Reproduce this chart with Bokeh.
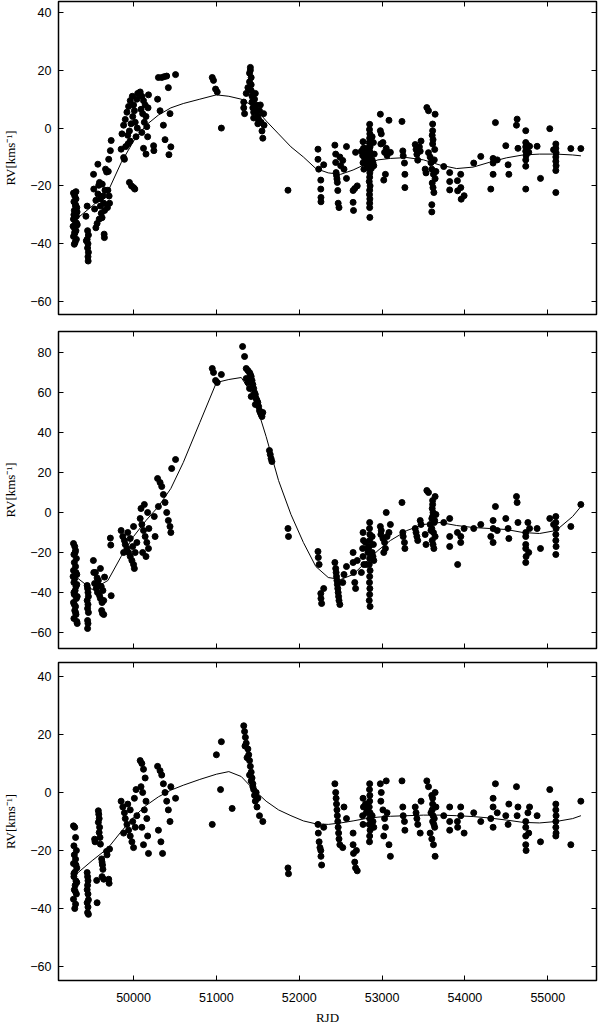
from bokeh.plotting import figure
from bokeh.models import Range1d, FixedTicker, LinearAxis, CustomJSTickFormatter, ColumnDataSource
from bokeh.layouts import column
from bokeh.embed import file_html
from bokeh.resources import INLINE

# ---------------- data ----------------
x_ticks = [50000, 51000, 52000, 53000, 54000, 55000]
y_ticks_a = [-60, -40, -20, 0, 20, 40]
y_ticks_b = [-60, -40, -20, 0, 20, 40, 60, 80]
y_ticks_c = [-60, -40, -20, 0, 20, 40]
x_label = "RJD"
y_label = "RV[kms\u207b\u00b9]"

# observations (RJD, RV) of panel A (top)
obs_a = [
    (49275, -22.5), (49290, -23.5), (49305, -24.5), (49280, -25.5), (49300, -26.5), (49315, -27.5),
    (49285, -28.5), (49295, -29.5), (49310, -30.5), (49275, -31.5), (49300, -32.5), (49320, -33.5),
    (49285, -34.5), (49305, -35.5), (49290, -36.5), (49275, -37.5), (49310, -38.5), (49295, -39.5),
    (49285, -40.2), (49300, -27), (49280, -30), (49315, -33), (49290, -36), (49305, -22), (49318, -29), (49270, -34),
    (49440, -27), (49425, -30.5), (49445, -35.5), (49455, -37), (49440, -38.5), (49450, -40), (49445, -41.5),
    (49455, -43), (49450, -44.5), (49452, -46), (49430, -39),
    (49517, -16), (49569, -12.5), (49520, -21.1), (49589, -18.8), (49580, -19.8), (49622, -19.4), (49662, -14.2),
    (49675, -15.2), (49545, -25), (49570, -22.8), (49600, -27), (49610, -29.5), (49630, -23.5), (49640, -26),
    (49650, -28.5), (49585, -31.5), (49560, -33), (49545, -34.5), (49620, -31), (49600, -24.5), (49645, -36.7),
    (49648, -37.9), (49530, -28), (49655, -21.5),
    (49730, -4.3), (49720, -7.8), (49700, -10.8), (49695, -15), (49690, -21.5), (49705, -23.5), (49710, -26), (49685, -27.5),
    (49850, -7.3), (49880, -10.2), (49890, -10.8), (49905, -6.4), (49935, -5.4), (49960, -4.5), (49950, -18.8),
    (49975, -20), (50000, -20.6), (50015, -21.1), (49860, -2), (49880, 1), (49900, 3), (49920, 5.5), (49940, 7.5),
    (49960, 9.5), (49985, 11), (50000, 8), (49990, 4), (49970, 1.5), (49950, -1), (49930, -2.5), (50010, 6),
    (50020, 2), (50030, -3), (50040, 10), (50050, 12), (50045, 0),
    (50080, 12.5), (50100, 11), (50120, 9.5), (50140, 8), (50090, 6.5), (50110, 5), (50150, 4), (50130, 2),
    (50160, 0.5), (50100, -1.5), (50170, -3), (50120, -7), (50150, -9), (50180, 11.5), (50175, 7),
    (50242, -6.1), (50245, -7.8), (50300, 17.5), (50340, 17.5), (50370, 17.8), (50400, 18), (50420, 14),
    (50290, 10), (50320, 6), (50360, 1), (50380, -4), (50427, -9.2), (50440, 5), (50450, -6.5),
    (50507, 18.5),
    (50950, 17.5), (50965, 16.5), (51010, 12.5), (50990, 13.5), (51060, 0),
    (51330, 7), (51330, 9), (51340, 5), (51360, 12), (51380, 14), (51400, 16), (51400, 19), (51410, 21),
    (51410, 20), (51420, 17.5), (51420, 15), (51420, 13), (51430, 11), (51430, 9), (51440, 7), (51450, 5.5),
    (51450, 3.5), (51460, 10), (51470, 12), (51480, 8), (51490, 6), (51500, 4), (51500, 1.5), (51510, 3),
    (51520, 6), (51530, 8), (51540, 2), (51550, -1), (51560, -3.5), (51570, 5), (51575, 1),
    (51864, -21.5),
    (52226, -7.3), (52226, -10.8), (52235, -14.2), (52260, -18), (52260, -21.1), (52262, -24), (52262, -25.5), (52295, -12.7),
    (52430, -5.9), (52440, -9), (52440, -11.9), (52445, -15.4), (52450, -16.4), (52455, -17.6), (52460, -18.8),
    (52465, -21.6), (52470, -26), (52480, -27.5), (52525, -11.2), (52540, -14.2), (52570, -6.4), (52570, -17.4),
    (52490, -10), (52500, -13),
    (52650, -21.6), (52650, -25.7), (52655, -28.5), (52670, -20.9), (52680, -8.4), (52700, -20),
    (52850, 1.3), (52848, -0.5), (52852, -2), (52850, -3.5), (52845, -5), (52855, -6.5), (52850, -8), (52845, -9.5),
    (52855, -11), (52850, -12.5), (52848, -14), (52852, -15.5), (52850, -17), (52845, -18.5), (52855, -20),
    (52850, -21.5), (52848, -23), (52852, -24.5), (52850, -26), (52850, -27.5), (52852, -30.9),
    (52770, -4.7), (52775, -7), (52765, -9.5), (52770, -12), (52780, -14.2), (52800, -7), (52810, -9), (52820, -10),
    (52880, -11), (52890, -12), (52900, -13), (52870, -14), (52880, -3), (52895, -5), (52830, -11.5), (52810, -12.5),
    (52790, -10.5), (52905, -9), (52750, -8),
    (52979, 4.8), (52979, -0.9), (52990, -2), (52985, -5.5), (53010, -5), (53030, -8.4), (53040, -16), (53020, -18),
    (53083, 2.7), (53100, -8.4), (53060, -9.5), (53050, -7),
    (53240, 2.3), (53250, -7.9), (53255, -9.6), (53270, -12.1), (53275, -16), (53275, -20.6),
    (53400, -5.7), (53410, -7.4), (53420, -9.1), (53430, -11.1), (53470, -4.5), (53460, -8), (53450, -6.5),
    (53520, -14.2), (53530, -15.5),
    (53540, 7.1), (53560, 6), (53640, 4.8), (53610, 1.4), (53610, -0.9), (53605, -2.5), (53615, -4), (53610, -5.5),
    (53635, -7.4), (53580, -10), (53600, -14.2), (53620, -16), (53640, -17.5), (53605, -19), (53615, -20.6),
    (53625, -22.3), (53600, -26.5), (53600, -29), (53560, -8.5), (53650, -15), (53590, -12), (53630, -11),
    (53744, -13.3), (53816, -15.4), (53816, -18.5), (53816, -21.4),
    (53909, -18.2), (53912, -21.7), (53949, -16), (53950, -20.6), (53955, -24.6), (53990, -23.4),
    (54106, -12.1), (54191, -9.8),
    (54312, -21.1), (54340, -10.5), (54340, -12.1), (54340, -16), (54368, 1.9), (54390, -11),
    (54493, -6.1), (54521, -12.7), (54530, -16),
    (54622, 1), (54630, 3.1), (54640, -7),
    (54734, -0.9), (54734, -5), (54734, -6.5), (54734, -8), (54738, -9.5), (54734, -11), (54734, -13.2),
    (54734, -21.1), (54760, -6), (54780, -6.3), (54770, -8.4),
    (54871, -6.3), (54912, -17.4), (55024, -0.2),
    (55097, -5.5), (55097, -7), (55100, -8.5), (55097, -10), (55097, -11.5), (55100, -13), (55097, -14.7),
    (55097, -22.3), (55070, -7.5),
    (55278, -7.1), (55399, -7.1),
]

# observations (RJD, RV) of panel B (middle)
obs_b = [
    (49275, -15.5), (49290, -17), (49300, -19), (49280, -21), (49310, -23), (49285, -25), (49300, -27),
    (49275, -29), (49315, -31), (49290, -33), (49280, -35), (49305, -37), (49295, -39), (49285, -41),
    (49310, -43), (49275, -45), (49300, -47), (49290, -49), (49305, -51), (49280, -53), (49315, -54.5),
    (49320, -55.5), (49295, -20), (49305, -30), (49280, -40), (49300, -50), (49315, -36), (49285, -46),
    (49270, -32), (49320, -42),
    (49440, -36.5), (49445, -38), (49450, -40), (49455, -42), (49440, -44), (49450, -46), (49445, -48),
    (49455, -50), (49445, -54), (49450, -55.5), (49445, -58),
    (49515, -24), (49540, -30), (49560, -32.7), (49575, -34), (49530, -35.5), (49580, -36.5), (49550, -38),
    (49565, -40), (49590, -41.6), (49600, -43), (49620, -45), (49650, -32.3), (49610, -37), (49630, -39),
    (49640, -44), (49615, -49), (49625, -50.5), (49640, -51), (49520, -30), (49600, -28),
    (49720, -12.8), (49725, -16.3), (49730, -41.6),
    (49850, -9), (49870, -12), (49890, -14), (49900, -16), (49920, -18), (49940, -20), (49960, -22),
    (49980, -24), (50000, -26), (50010, -28), (49930, -10), (49960, -13), (49990, -17), (50020, -20),
    (50040, -15), (49880, -20), (50000, -7),
    (50080, -3), (50100, -6), (50120, -9), (50140, -12), (50160, -15), (50180, -18), (50110, -20),
    (50150, -22), (50090, 2), (50130, 4), (50170, 0), (50185, -8),
    (50290, 17), (50320, 15), (50340, 13), (50360, 9), (50380, 5), (50400, 0), (50420, -4), (50440, -7),
    (50450, -10), (50460, 22), (50250, -2), (50260, -12), (50300, 3),
    (50507, 26.5),
    (50950, 72), (50965, 70), (51010, 65), (50990, 66), (51060, 69),
    (51316, 83), (51340, 78), (51360, 72), (51380, 71), (51400, 70), (51410, 69), (51420, 68), (51430, 66),
    (51440, 64), (51450, 62), (51460, 60), (51470, 59), (51480, 57), (51490, 56), (51500, 55), (51510, 53),
    (51520, 51), (51530, 50), (51540, 49), (51550, 48), (51400, 62), (51420, 58), (51380, 65), (51360, 67),
    (51470, 54), (51560, 50),
    (51640, 31), (51650, 29), (51660, 27), (51670, 25.5),
    (51864, -8), (51870, -12),
    (52226, -19.5), (52230, -22.5), (52240, -26), (52260, -40.5), (52262, -43), (52270, -45.5), (52295, -38),
    (52430, -25), (52440, -28), (52445, -30), (52450, -32), (52455, -34), (52460, -36), (52465, -38),
    (52470, -40), (52475, -42), (52480, -44), (52490, -46), (52525, -35), (52540, -31), (52570, -27),
    (52650, -20), (52650, -25), (52655, -30), (52670, -35), (52680, -38), (52700, -24),
    (52850, -5), (52848, -8), (52852, -11), (52850, -14), (52845, -17), (52855, -20), (52850, -23),
    (52845, -26), (52855, -29), (52850, -32), (52848, -35), (52852, -38), (52850, -41), (52845, -44), (52855, -47),
    (52770, -10), (52775, -14), (52765, -18), (52770, -22), (52780, -26), (52800, -15), (52820, -18),
    (52880, -20), (52890, -22), (52900, -24), (52810, -26), (52830, -20), (52880, -12), (52895, -16), (52750, -30),
    (52979, -7), (52990, -9), (52985, -11), (53010, -13), (53030, -15), (53040, -18), (53020, -20),
    (53083, -10), (53100, -6), (53060, -12), (53050, 0),
    (53240, 5), (53250, -10), (53255, -12), (53270, -15), (53275, -18),
    (53400, -8), (53410, -10), (53420, -12), (53430, -14), (53470, -6), (53460, -4), (53520, -11), (53530, -16),
    (53540, 11), (53560, 10), (53640, 8), (53610, 6), (53610, 4), (53605, 2), (53615, 0), (53610, -2),
    (53635, -4), (53580, -6), (53600, -8), (53620, -10), (53640, -12), (53605, -14), (53615, -16),
    (53625, -18), (53600, -3), (53650, -1), (53590, -9), (53630, -5),
    (53744, -5), (53816, -12), (53816, -17), (53816, -3),
    (53909, -10), (53912, -26), (53949, -15), (53950, -12), (53990, -8),
    (54106, -8), (54191, -6),
    (54312, -12), (54340, -4), (54340, -8), (54340, -15), (54368, 3), (54390, -9),
    (54493, -3), (54521, -8), (54530, -13),
    (54622, 8), (54630, 5), (54640, -5),
    (54734, -10), (54734, -12), (54734, -16), (54734, -18), (54738, -22), (54734, -25), (54760, -5),
    (54780, -8), (54770, -20),
    (54871, -8), (54912, -18), (55024, -3),
    (55097, -2), (55097, -5), (55100, -8), (55097, -11), (55097, -14), (55100, -17), (55097, -21), (55070, -6),
    (55278, -7), (55399, 4),
]

# observations (RJD, RV) of panel C (bottom)
obs_c = [
    (49275, -11.5), (49290, -12), (49300, -15.5), (49280, -18.4), (49310, -20), (49285, -21.5), (49300, -23),
    (49275, -24.5), (49315, -26), (49290, -27.5), (49280, -29), (49305, -30.5), (49295, -32), (49285, -33.5),
    (49310, -35), (49275, -36.8), (49300, -38.5), (49290, -40), (49305, -25), (49280, -28), (49315, -31), (49295, -34),
    (49440, -27.6), (49445, -29), (49450, -30.4), (49445, -32), (49440, -33.5), (49450, -35), (49455, -37),
    (49440, -38), (49450, -39.5), (49445, -41.4), (49455, -42),
    (49530, -16.1), (49535, -17), (49560, -38), (49555, -30.3), (49575, -6.3), (49580, -7.5), (49585, -9),
    (49575, -10.3), (49590, -12), (49585, -13.8), (49595, -15.5), (49600, -17.8), (49615, -22.9), (49620, -24),
    (49625, -25), (49630, -26.5), (49620, -29), (49640, -29.9), (49674, -20.3), (49680, -21.5),
    (49710, -19.5), (49700, -29.9), (49705, -31.3),
    (49850, -3), (49870, -5), (49890, -7), (49900, -9), (49920, -11), (49940, -13), (49960, -15), (49980, -17),
    (50000, -19), (49930, -4), (49960, -6), (49990, -10), (50020, -12), (50040, -8), (49880, -14), (50010, -2), (50030, 1),
    (50080, 11), (50100, 10), (50120, 8), (50140, 5), (50090, 2), (50110, 0), (50150, -3), (50130, -6),
    (50160, -9), (50100, -12), (50170, -15), (50120, -18), (50180, -21),
    (50290, 9), (50320, 7.5), (50340, 6), (50360, 3), (50380, 0), (50400, -3), (50420, -6), (50440, -10),
    (50300, -13), (50330, -17), (50350, -21), (50450, 2),
    (50507, -2),
    (50950, -11), (51000, 13), (51060, 17.5), (51050, 1), (51190, -5.5),
    (51330, 23), (51340, 21), (51350, 19), (51360, 17), (51380, 15), (51390, 13), (51400, 11), (51410, 9),
    (51420, 7), (51430, 5), (51440, 3), (51450, 1), (51460, -1), (51470, -3), (51490, -5), (51520, -8),
    (51560, -10), (51345, 16), (51370, 12), (51400, 6), (51420, 4), (51440, 2), (51480, 0), (51500, -2),
    (51864, -26), (51870, -28),
    (52226, -11), (52230, -14), (52240, -17), (52260, -20), (52262, -22), (52270, -25), (52295, -12), (52250, -19),
    (52430, 3), (52440, 0), (52445, -2), (52450, -4), (52455, -6), (52460, -8), (52465, -10), (52470, -12),
    (52475, -14), (52480, -16), (52490, -18), (52525, -19), (52540, -5), (52570, -9),
    (52650, -14), (52650, -18), (52655, -21), (52670, -24), (52680, -26), (52700, -27), (52690, -20),
    (52850, 3), (52848, 1), (52852, -1), (52850, -3), (52845, -5), (52855, -7), (52850, -9), (52845, -11),
    (52855, -13), (52850, -15), (52848, -17), (52770, -2), (52775, -5), (52765, -8), (52770, -11),
    (52800, -4), (52820, -6), (52880, -8), (52890, -10), (52900, -12), (52810, -7),
    (52979, 3), (52990, 0), (52985, -3), (53010, -6), (53030, -9), (53040, -12), (53020, -15), (53083, -18),
    (53100, -22), (53060, -7), (53050, 4),
    (53240, 4), (53250, -5), (53255, -8), (53270, -10), (53275, -13),
    (53400, -5), (53410, -7), (53420, -9), (53430, -11), (53470, -3), (53460, -14),
    (53540, 4), (53560, 2), (53640, 0), (53610, -2), (53610, -4), (53605, -6), (53615, -8), (53610, -10),
    (53635, -12), (53580, -14), (53600, -16), (53620, -18), (53600, -1), (53650, -5), (53590, -7), (53630, -9),
    (53625, -11), (53640, -22),
    (53744, -8), (53816, -13), (53816, -10), (53816, -5),
    (53909, -10), (53912, -12), (53949, -5), (53950, -8), (53990, -14),
    (54106, -7), (54191, -10),
    (54312, -9), (54340, -5), (54340, -12), (54340, -2), (54368, 3), (54390, -7),
    (54493, -8), (54521, -11), (54530, -4),
    (54622, 2), (54630, -8), (54640, -5),
    (54734, -10), (54734, -12), (54734, -15), (54734, -18), (54738, -20), (54760, -7), (54780, -5), (54770, -14),
    (54871, -8), (54912, -17), (55024, 1),
    (55097, -4), (55097, -6), (55100, -8), (55097, -10), (55097, -12), (55100, -14), (55097, -15),
    (55278, -18), (55399, -3),
]

# model curves
fit_rjd = [49330, 49500, 49690, 49850, 50000, 50150, 50300, 50450, 50600, 50800, 51000, 51150, 51300,
           51450, 51600, 51750, 51900, 52050, 52200, 52350, 52500, 52650, 52800, 52950, 53100, 53300,
           53500, 53700, 53900, 54100, 54300, 54500, 54700, 54900, 55100, 55300, 55400]
fit_a = [-31, -27, -22, -12, -4.5, 1, 4.5, 7, 8.5, 10, 11.5, 11, 10,
         7.5, 2.5, -2, -6.5, -10, -14, -15.5, -16, -14.5, -12.5, -11, -10.5, -10.2,
         -11, -12.8, -14, -13.5, -11.8, -10.3, -9.3, -9, -9, -9.3, -9.6]
fit_b = [-33, -38.5, -34, -22, -12, -4, 3, 12, 25, 45, 65, 66.5, 67.5,
         58, 38, 16, -1, -15, -27, -32.5, -33.5, -31, -25, -19, -14, -9,
         -6, -5, -6.5, -7.5, -8, -8.5, -10, -10.5, -9, -2, 3]
fit_c = [-27.6, -23.5, -19.2, -13.5, -8.5, -4.5, -1.5, 0.8, 2.5, 4.5, 6.3, 7.2, 5.5,
         1, -3, -6, -8, -9.8, -10.8, -11, -10.5, -9.8, -9, -8.5, -8.2, -8,
         -7.8, -7.8, -8, -8.3, -8.8, -9.5, -10.3, -10.5, -10, -9, -8]

# ---------------- plotting ----------------
X_RANGE = (49094, 55588)
TICK_FONT = "Liberation Sans"
LABEL_FONT = "Liberation Serif"


def style_axis(ax, ticks, labels=True):
    ax.ticker = FixedTicker(ticks=ticks)
    ax.axis_line_color = None
    ax.major_tick_in = 5
    ax.major_tick_out = 0
    ax.major_tick_line_color = "black"
    ax.major_tick_line_width = 1
    ax.minor_tick_line_color = None
    if labels:
        ax.major_label_text_font = TICK_FONT
        ax.major_label_text_font_size = "12.5px"
        ax.major_label_text_color = "black"
    else:
        ax.formatter = CustomJSTickFormatter(code="return ''")
        ax.major_label_text_font_size = "0px"
        ax.major_label_standoff = 0


def panel(obs, fit, yr, yticks, frame_h, top, bottom, with_x):
    p = figure(frame_width=538, frame_height=frame_h, title=None,
               x_range=Range1d(*X_RANGE), y_range=Range1d(*yr),
               output_backend="svg", toolbar_location=None,
               min_border_left=51, min_border_right=3,
               min_border_top=top, min_border_bottom=bottom,
               background_fill_color="white", border_fill_color="white")
    p.outline_line_color = "black"
    p.outline_line_width = 1.5
    p.xgrid.grid_line_color = None
    p.ygrid.grid_line_color = None

    src = ColumnDataSource(dict(rjd=[o[0] for o in obs], rv=[o[1] for o in obs]))
    p.line(fit_rjd, fit, line_color="black", line_width=1)
    p.scatter("rjd", "rv", source=src, size=6, color="black")

    ya = p.yaxis[0]
    style_axis(ya, yticks, True)
    ya.major_label_standoff = 7
    ya.axis_label = y_label
    ya.axis_label_text_font = LABEL_FONT
    ya.axis_label_text_font_style = "normal"
    ya.axis_label_text_font_size = "13px"
    ya.axis_label_text_color = "black"
    ya.axis_label_standoff = 9

    xa = p.xaxis[0]
    if with_x:
        style_axis(xa, x_ticks, True)
        xa.major_label_standoff = 12
        xa.axis_label = x_label
        xa.axis_label_text_font = LABEL_FONT
        xa.axis_label_text_font_style = "normal"
        xa.axis_label_text_font_size = "13px"
        xa.axis_label_text_color = "black"
        xa.axis_label_standoff = 5
    else:
        style_axis(xa, x_ticks, False)

    top_ax = LinearAxis()
    style_axis(top_ax, x_ticks, False)
    p.add_layout(top_ax, "above")
    right_ax = LinearAxis()
    style_axis(right_ax, yticks, False)
    p.add_layout(right_ax, "right")
    return p


p1 = panel(obs_a, fit_a, (-64.5, 43.8), y_ticks_a, 313, 1, 8, False)
p2 = panel(obs_b, fit_b, (-68, 90.5), y_ticks_b, 317, 9, 7, False)
p3 = panel(obs_c, fit_c, (-64.8, 44.8), y_ticks_c, 318, 7, 38, True)

layout = column(p1, p2, p3, spacing=0)
open("out.html", "w").write(file_html(layout, INLINE, title="RV curves"))
